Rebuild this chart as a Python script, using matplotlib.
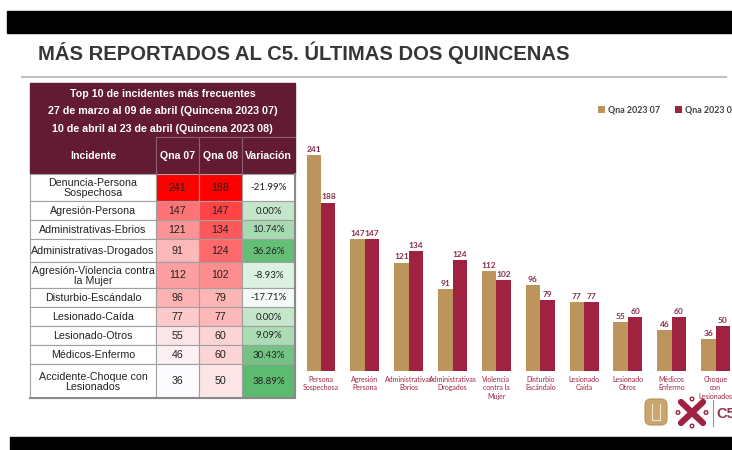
import numpy as np
import matplotlib.pyplot as plt
from matplotlib.patches import Rectangle, FancyBboxPatch, Circle
from matplotlib.colors import LinearSegmentedColormap, Normalize

# datos
incidentes = ["Denuncia-Persona\nSospechosa", "Agresión-Persona", "Administrativas-Ebrios",
              "Administrativas-Drogados", "Agresión-Violencia contra\nla Mujer", "Disturbio-Escándalo",
              "Lesionado-Caída", "Lesionado-Otros", "Médicos-Enfermo",
              "Accidente-Choque con\nLesionados"]
qna07 = [241, 147, 121, 91, 112, 96, 77, 55, 46, 36]
qna08 = [188, 147, 134, 124, 102, 79, 77, 60, 60, 50]
variacion = [-21.99, 0.00, 10.74, 36.26, -8.93, -17.71, 0.00, 9.09, 30.43, 38.89]
etiquetas = ["Persona\nSospechosa", "Agresión\nPersona", "Administrativas\nEbrios",
             "Administrativas\nDrogados", "Violencia\ncontra la\nMujer", "Disturbio\nEscándalo",
             "Lesionado\nCaída", "Lesionado\nOtros", "Médicos\nEnfermo", "Choque\ncon\nLesionados"]
series = ["Qna 2023 07", "Qna 2023 08"]
titulo = "MÁS REPORTADOS AL C5. ÚLTIMAS DOS QUINCENAS"
encabezado = ["Top 10 de incidentes más frecuentes",
              "27 de marzo al 09 de abril (Quincena 2023 07)",
              "10 de abril al 23 de abril (Quincena 2023 08)"]
columnas = ["Incidente", "Qna 07", "Qna 08", "Variación"]

ORO = "#BC955C"
GUINDA = "#9F2241"
VINO = "#621B32"
tfont = ["Liberation Sans", "DejaVu Sans"]

fig = plt.figure(figsize=(7.32, 4.5), dpi=100)

# capa de fondo en pixeles
bg = fig.add_axes([0, 0, 1, 1])
bg.set_xlim(0, 732)
bg.set_ylim(450, 0)
bg.axis("off")

bg.add_patch(Rectangle((7, 11), 725, 22, color="black"))
bg.add_patch(Rectangle((10, 437), 722, 13, color="black"))
bg.plot([22, 726], [77, 77], color="#C0C0C0", lw=1.5)
bg.text(38, 60, titulo, fontsize=14.6, fontweight="bold", color="#363636",
        family=tfont, va="baseline", ha="left")

# tabla
col_x = [30, 156, 199, 242, 295]
fila_y = [174, 201, 220, 239, 262, 288, 307, 326, 345, 364, 398]

bg.add_patch(Rectangle((30, 83), 265, 91, color=VINO))
for i, t in enumerate(encabezado):
    bg.text(162.5, 94 + i * 17.5, t, fontsize=7.7, fontweight="bold", color="white",
            family=tfont, ha="center", va="center")
bg.plot([156, 295], [137, 137], color="#8C6070", lw=0.8)
for xc in col_x[1:4]:
    bg.plot([xc, xc], [137, 174], color="#8C6070", lw=0.8)
for j, c in enumerate(columnas):
    bg.text((col_x[j] + col_x[j + 1]) / 2, 156, c, fontsize=7.6, fontweight="bold",
            color="white", family=tfont, ha="center", va="center")

rojo = LinearSegmentedColormap.from_list("rojo", ["#FCFCFE", "#FF0000"])
verde = LinearSegmentedColormap.from_list("verde", ["#FFFFFF", "#5DBB70"])
vmin = min(qna07 + qna08)
n07 = Normalize(vmin, max(qna07))
n08 = Normalize(vmin, max(qna08))
nvar = Normalize(min(variacion), max(variacion))

for i in range(len(incidentes)):
    y0, y1 = fila_y[i], fila_y[i + 1]
    yc = (y0 + y1) / 2
    colores = ["white", rojo(n07(qna07[i])), rojo(n08(qna08[i])), verde(nvar(variacion[i]))]
    textos = [incidentes[i], str(qna07[i]), str(qna08[i]), f"{variacion[i]:.2f}%"]
    for j in range(4):
        bg.add_patch(Rectangle((col_x[j], y0), col_x[j + 1] - col_x[j], y1 - y0,
                               facecolor=colores[j], edgecolor="#A0A0A0", lw=0.8))
        fam = ["Lato", "DejaVu Sans"] if j == 3 else tfont
        bg.text((col_x[j] + col_x[j + 1]) / 2, yc + 0.5, textos[j], fontsize=7.65 if j < 3 else 7,
                color="#222222", family=fam, ha="center", va="center", linespacing=1.0)
bg.plot([295, 295, 30], [174, 398, 398], color="#8A8A8A", lw=1.5)

# logos aproximados
bg.add_patch(FancyBboxPatch((645, 399), 22, 26, boxstyle="round,pad=0,rounding_size=6",
                            facecolor="#C8A66E", edgecolor="#B89058", lw=0.8))
bg.plot([652, 652, 660, 660], [404, 420, 420, 404], color="#F1E4CC", lw=0.8)
bg.plot([681, 703], [402, 423], color=GUINDA, lw=4.5, solid_capstyle="round")
bg.plot([703, 681], [402, 423], color=GUINDA, lw=4.5, solid_capstyle="round")
for cx, cy in [(692, 399), (692, 426), (678, 412.5), (706, 412.5)]:
    bg.add_patch(Circle((cx, cy), 1.8, facecolor="white", edgecolor=GUINDA, lw=1))
bg.plot([713, 713], [400, 426], color="#C08090", lw=0.8)
bg.text(716, 414, "C5", fontsize=10.5, fontweight="bold", color="#8E3A52",
        family=tfont, ha="left", va="center")

# grafica de barras
ax = fig.add_axes([299.1 / 732, 79 / 450, 438.4 / 732, 233 / 450])
x = np.arange(len(qna07))
w = 0.33
b1 = ax.bar(x - w / 2, qna07, w, color=ORO, label=series[0])
b2 = ax.bar(x + w / 2, qna08, w, color=GUINDA, label=series[1])
for b in (b1, b2):
    ax.bar_label(b, padding=1.5, fontsize=6, fontweight="bold", color="#8A3048",
                 family=["Lato", "DejaVu Sans"])
ax.set_xlim(-0.5, len(x) - 0.5)
ax.set_ylim(0, 260)
ax.set_xticks(x)
ax.set_xticklabels(etiquetas, fontsize=5.0, color=GUINDA, family=["Lato", "DejaVu Sans"],
                   linespacing=1.25)
ax.tick_params(axis="x", length=0, pad=3.5)
ax.set_yticks([])
for s in ax.spines.values():
    s.set_visible(False)
ax.patch.set_alpha(0)

fig.legend(handles=[b1, b2], loc="center left", bbox_to_anchor=(590 / 732, 1 - 110 / 450),
           ncol=2, frameon=False, handlelength=0.8, handleheight=0.8, handletextpad=0.3,
           columnspacing=1.7, prop={"family": ["Lato", "DejaVu Sans"], "size": 6.4, "weight": "bold"},
           labelcolor="#404040")

fig.savefig("out.png", dpi=100)
